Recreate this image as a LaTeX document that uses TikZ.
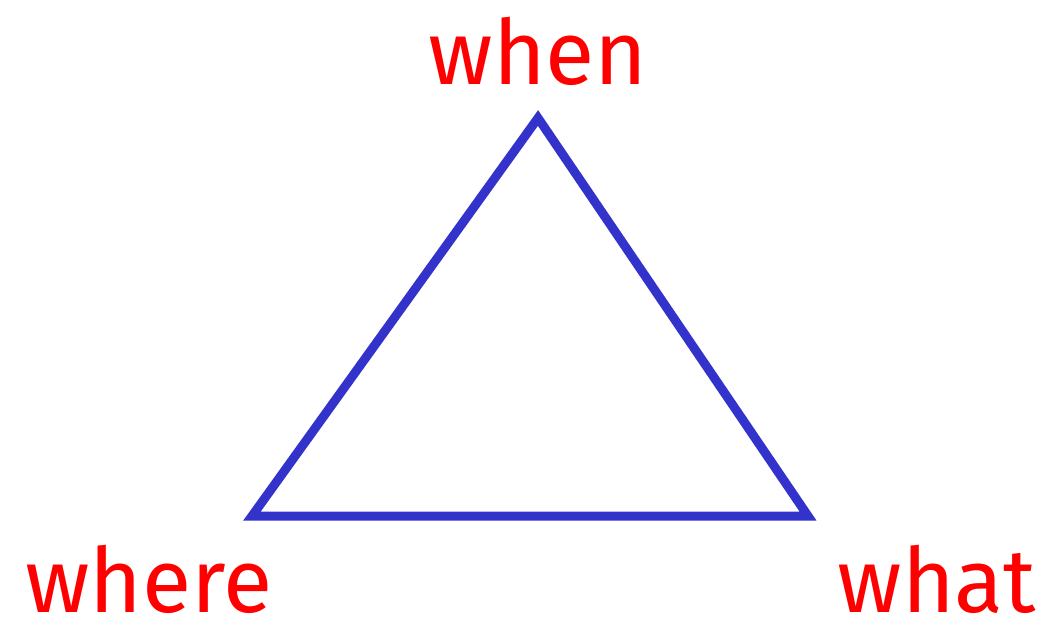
\documentclass[tikz,border=0pt]{standalone}
\usepackage{fontspec}
\setmainfont{Fira Sans}
\definecolor{triblue}{HTML}{3333CC}
\definecolor{lblred}{HTML}{FF0000}
\begin{document}
\begin{tikzpicture}[x=1pt,y=-1pt,
  lbl/.style={text=lblred, font=\fontsize{90}{100}\selectfont, inner sep=0pt},
  edge/.style={draw=triblue, line width=9pt}]
\useasboundingbox (0,0) rectangle (1047,622);
\coordinate (top) at (538,118);
\coordinate (bl) at (252,516);
\coordinate (br) at (808,516);
\draw[edge, line join=miter] (top) -- (bl) -- (br) -- cycle;
\node[lbl, anchor=base] (when) at (538,84) {when};
\node[lbl, anchor=base] (where) at (149,612) {where};
\node[lbl, anchor=base] (what) at (937,612) {what};
\end{tikzpicture}
\end{document}
